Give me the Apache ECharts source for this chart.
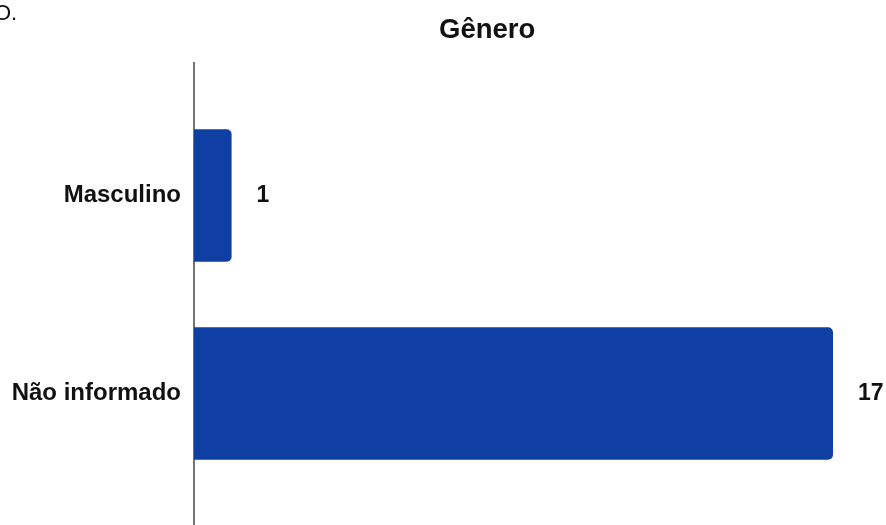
<!DOCTYPE html>
<html><head><meta charset="utf-8">
<script src="https://cdn.jsdelivr.net/npm/echarts@6/dist/echarts.min.js"></script>
<style>html,body{margin:0;padding:0;background:#fff}#c{width:886px;height:525px}</style>
</head><body><div id="c"></div>
<script>
const categories = ["Não informado", "Masculino"];
const values = [17, 1];
const titleText = "Gênero";

const chart = echarts.init(document.getElementById('c'), null, {renderer: 'canvas'});
chart.setOption({
  animation: false,
  backgroundColor: '#ffffff',
  title: {
    text: titleText, left: 434, top: 11,
    textStyle: {fontFamily: 'Liberation Sans, Arial, sans-serif', fontWeight: 'bold', fontSize: 27.5, color: '#111'}
  },
  graphic: [
    {type: 'text', left: -6, top: 3, style: {text: 'O.', font: '22px "Liberation Sans", Arial, sans-serif', fill: '#111'}},
    {type: 'line', shape: {x1: 194, y1: 62, x2: 194, y2: 525}, style: {stroke: '#444', lineWidth: 1.5}}
  ],
  grid: {left: 194, width: 639, top: 96.5, height: 396, containLabel: false},
  xAxis: {type: 'value', min: 0, max: 17, show: false},
  yAxis: {
    type: 'category', data: categories,
    axisLine: {show: false}, axisTick: {show: false},
    axisLabel: {margin: 13, fontFamily: 'Liberation Sans, Arial, sans-serif', fontWeight: 'bold', fontSize: 24, color: '#111'}
  },
  series: [{
    type: 'bar', data: values, barWidth: '67%',
    itemStyle: {color: '#0f3fa3', borderRadius: [0, 5, 5, 0]},
    label: {show: true, position: 'right', distance: 25, fontFamily: 'Liberation Sans, Arial, sans-serif', fontWeight: 'bold', fontSize: 23, color: '#111'}
  }]
});
</script></body></html>
